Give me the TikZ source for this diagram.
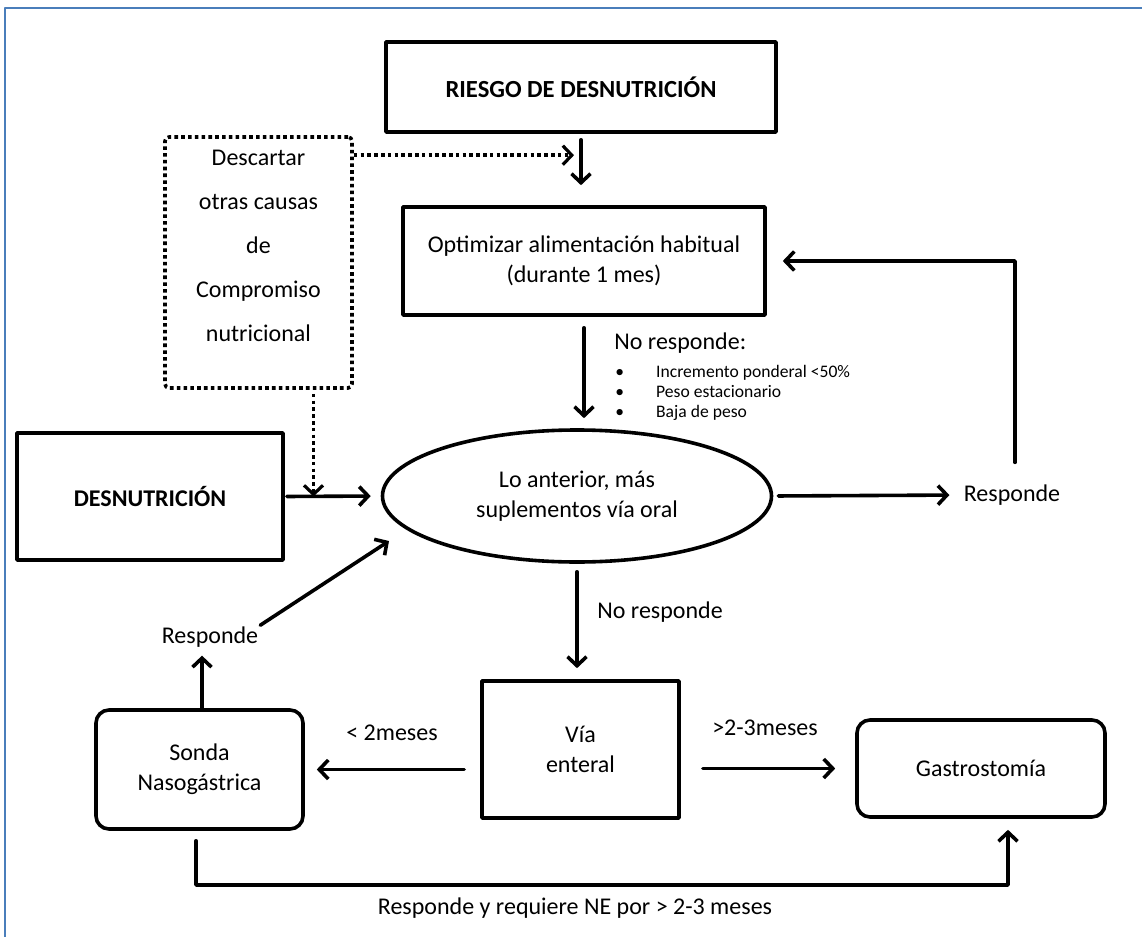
\documentclass[tikz,border=0pt]{standalone}
\usepackage{fontspec}
\setmainfont{Carlito}
\usetikzlibrary{arrows.meta,shapes.geometric}
\definecolor{borde}{RGB}{74,126,187}

\begin{document}
\begin{tikzpicture}[x=0.5pt, y=-0.5pt, line cap=round, line join=round,
  font=\fontsize{12}{15}\selectfont,
  caja/.style={draw, line width=1.8pt, align=center, inner sep=0pt},
  etiqueta/.style={inner sep=0pt, align=left},
  flecha/.style={line width=1.8pt, -{Straight Barb[length=4.5pt,width=9.5pt,line width=1.8pt]}},
  punteada/.style={line width=1.8pt, line cap=butt, dash pattern=on 1.8pt off 1.6pt}]

\useasboundingbox (0,0) rectangle (1142,937);

% Marco
\draw[borde, line width=1pt] (5,937) -- (5,8) -- (1142,8);

% Cajas principales
\node[caja, minimum width=195pt, minimum height=45pt, font=\fontsize{12.3}{15}\selectfont\bfseries]
  (riesgo) at (581,87) {RIESGO DE DESNUTRICIÓN};
\node[caja, punteada, rounded corners=2pt, minimum width=93.5pt, minimum height=125.5pt,
  font=\fontsize{12}{22}\selectfont]
  (descartar) at (258.5,262.5) {Descartar\\otras causas\\de\\Compromiso\\nutricional\\[-5pt]\mbox{}};
\node[caja, minimum width=181pt, minimum height=54pt] (optimizar) at (584,261)
  {Optimizar alimentación habitual\\(durante 1 mes)};
\node[caja, ellipse, minimum width=194.5pt, minimum height=66pt] (tratamiento) at (577,496)
  {Lo anterior, más\\suplementos vía oral};
\node[caja, minimum width=133pt, minimum height=63.5pt, font=\fontsize{12}{15}\selectfont\bfseries]
  (desnutricion) at (150,496.5) {DESNUTRICIÓN};
\node[caja, minimum width=98.5pt, minimum height=68.5pt] (via) at (580.5,749.5) {Vía\\enteral};
\node[caja, rounded corners=6.5pt, minimum width=103.5pt, minimum height=59.5pt]
  (sonda) at (199.5,769.5) {Sonda\\Nasogástrica};
\node[caja, rounded corners=6.5pt, minimum width=124pt, minimum height=48.5pt]
  (gastro) at (981,768.5) {Gastrostomía};

% Etiquetas
\node[etiqueta, anchor=west] (noresp1) at (614,343) {No responde:};
\node[etiqueta, anchor=north west, font=\fontsize{8.8}{10}\selectfont] (criterios) at (615,363)
  {\begin{tabular}{@{}l@{\hspace{16pt}}l@{}}
   \textbullet & Incremento ponderal <50\%\\
   \textbullet & Peso estacionario\\
   \textbullet & Baja de peso
   \end{tabular}};
\node[etiqueta] (responde1) at (1012,495) {Responde};
\node[etiqueta] (responde2) at (210,637) {Responde};
\node[etiqueta, anchor=west] (noresp2) at (597,612) {No responde};
\node[etiqueta] (menos) at (392,733) {< 2meses};
\node[etiqueta] (mas) at (765,728) {>2-3meses};
\node[etiqueta] (requiere) at (575,908) {Responde y requiere NE por > 2-3 meses};

% Flechas del eje central
\draw[flecha, shorten <=3pt, shorten >=10pt] (riesgo.south) -- (riesgo.south |- optimizar.north);
\draw[flecha, shorten <=5.5pt, shorten >=5pt] (optimizar.south) -- (optimizar.south |- tratamiento.north);
\draw[flecha, shorten <=4pt, shorten >=5.5pt] (tratamiento.south) -- (tratamiento.south |- via.north);

% Descartar otras causas
\coordinate (d1) at ([yshift=-10pt]descartar.north east);
\draw[punteada, -{Straight Barb[length=4.5pt,width=9.5pt,line width=1.6pt]}]
  (d1) -- ([xshift=-3.5pt]d1 -| riesgo.south);
\coordinate (d2) at ([xshift=27.5pt]descartar.south);
\draw[punteada, -{Straight Barb[length=4.5pt,width=9.5pt,line width=1.6pt]}, shorten <=2pt]
  (d2) -- (d2 |- desnutricion.east);

% Desnutricion y respuesta
\draw[flecha, shorten <=1pt, shorten >=5pt] (desnutricion.east) -- (tratamiento.west);
\draw[flecha, shorten <=2.5pt, shorten >=7pt] (tratamiento.east) -- (responde1.west);
\draw[flecha, shorten <=11pt, shorten >=8pt] ([xshift=1.5pt]responde1.north) |- (optimizar.east);

% Via enteral
\draw[flecha, shorten <=8pt, shorten >=6pt] (via.west |- sonda.east) -- (sonda.east);
\draw[flecha, shorten <=11pt, shorten >=10pt] (via.east |- gastro.west) -- (gastro.west);

% Sonda
\draw[flecha, shorten >=4pt] (sonda.north -| 202,0) -- (responde2.south -| 202,0);
\coordinate (retorno) at (389,541);
\draw[flecha, shorten <=1pt] (responde2.north east) -- (retorno);
\coordinate (fondo) at (196,885);
\draw[flecha, shorten <=5pt, shorten >=5.5pt]
  (sonda.south -| fondo) -- (fondo) -| ([xshift=13.5pt]gastro.south);

\end{tikzpicture}
\end{document}
